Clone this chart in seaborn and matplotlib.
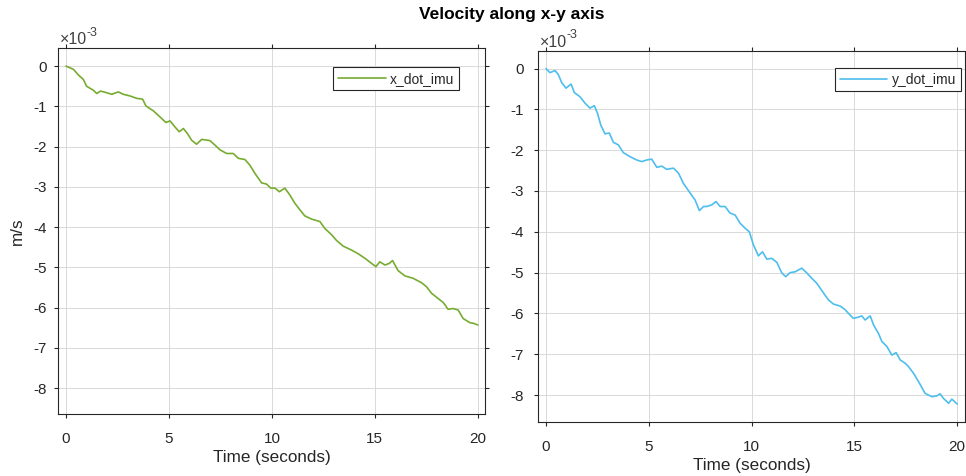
import numpy as np
import pandas as pd
import matplotlib
matplotlib.use("Agg")
import matplotlib.pyplot as plt
from matplotlib.ticker import FuncFormatter
import seaborn as sns

# Integrated IMU velocity along x (m/s, values in units of 1e-3)
t_x = [0, 0.36, 0.6, 0.84, 1.0, 1.33, 1.49, 1.68, 1.97, 2.22, 2.54, 2.78, 3.1, 3.43, 3.72,
       3.88, 4.24, 4.56, 4.85, 5.05, 5.29, 5.5, 5.7, 5.89, 6.1, 6.34, 6.59, 6.99, 7.23, 7.48,
       7.8, 8.12, 8.37, 8.69, 8.93, 9.17, 9.5, 9.74, 9.94, 10.15, 10.36, 10.63, 10.87, 11.12,
       11.36, 11.6, 11.93, 12.33, 12.57, 12.9, 13.14, 13.46, 13.87, 14.19, 14.51, 14.84, 15.05,
       15.24, 15.49, 15.7, 15.86, 16.13, 16.46, 16.86, 17.27, 17.51, 17.75, 18.07, 18.32, 18.56,
       18.8, 19.05, 19.29, 19.61, 19.81, 20.0]
x_dot_imu = [0, -0.08, -0.22, -0.33, -0.50, -0.60, -0.68, -0.62, -0.66, -0.70, -0.64, -0.70,
             -0.74, -0.80, -0.82, -0.99, -1.11, -1.26, -1.40, -1.36, -1.51, -1.63, -1.55, -1.67,
             -1.84, -1.94, -1.82, -1.85, -1.96, -2.08, -2.17, -2.17, -2.29, -2.32, -2.46, -2.66,
             -2.90, -2.93, -3.03, -3.03, -3.12, -3.03, -3.20, -3.41, -3.57, -3.72, -3.80, -3.86,
             -4.03, -4.19, -4.33, -4.47, -4.57, -4.66, -4.77, -4.90, -4.98, -4.86, -4.94, -4.90,
             -4.83, -5.08, -5.21, -5.27, -5.38, -5.48, -5.64, -5.77, -5.87, -6.04, -6.02, -6.06,
             -6.27, -6.37, -6.39, -6.43]

# Integrated IMU velocity along y (m/s, values in units of 1e-3)
t_y = [0, 0.19, 0.44, 0.60, 0.76, 0.97, 1.22, 1.38, 1.65, 1.90, 2.14, 2.35, 2.50, 2.66, 2.87,
       3.08, 3.28, 3.52, 3.76, 4.09, 4.41, 4.66, 4.90, 5.14, 5.39, 5.63, 5.87, 6.20, 6.44, 6.68,
       7.01, 7.25, 7.46, 7.66, 7.82, 8.06, 8.27, 8.47, 8.71, 8.95, 9.20, 9.44, 9.68, 9.89, 10.09,
       10.33, 10.53, 10.74, 10.98, 11.23, 11.47, 11.66, 11.87, 12.12, 12.44, 12.69, 12.93, 13.17,
       13.50, 13.74, 13.98, 14.31, 14.55, 14.79, 14.95, 15.20, 15.36, 15.52, 15.77, 15.93, 16.17,
       16.34, 16.58, 16.82, 17.03, 17.23, 17.47, 17.63, 17.88, 18.12, 18.44, 18.77, 19.01, 19.17,
       19.33, 19.58, 19.74, 20.0]
y_dot_imu = [0, -0.10, -0.05, -0.15, -0.34, -0.48, -0.38, -0.59, -0.69, -0.85, -0.97, -0.91,
             -1.09, -1.38, -1.60, -1.58, -1.81, -1.87, -2.06, -2.16, -2.24, -2.28, -2.24, -2.22,
             -2.42, -2.39, -2.47, -2.44, -2.56, -2.81, -3.05, -3.22, -3.48, -3.38, -3.38, -3.34,
             -3.26, -3.38, -3.38, -3.54, -3.59, -3.79, -3.91, -4.00, -4.32, -4.59, -4.49, -4.67,
             -4.65, -4.75, -5.01, -5.10, -5.00, -4.98, -4.89, -5.01, -5.14, -5.26, -5.50, -5.67,
             -5.77, -5.82, -5.91, -6.04, -6.12, -6.09, -6.06, -6.16, -6.06, -6.28, -6.49, -6.69,
             -6.81, -7.02, -6.96, -7.14, -7.22, -7.30, -7.47, -7.67, -7.96, -8.04, -8.02, -7.97,
             -8.08, -8.20, -8.10, -8.22]

SCALE = 1e-3
x_ticks = [0, 5, 10, 15, 20]
y_ticks = [-8, -7, -6, -5, -4, -3, -2, -1, 0]

sns.set_theme(style="whitegrid")
plt.rcParams.update({
    "font.family": ["Liberation Sans", "DejaVu Sans"],
    "axes.unicode_minus": False,
    "axes.edgecolor": "#262626",
    "axes.linewidth": 0.8,
    "grid.color": "#d9d9d9",
    "grid.linewidth": 0.7,
    "xtick.color": "#262626",
    "ytick.color": "#262626",
    "text.color": "#262626",
})

W, H = 966, 476
fig = plt.figure(figsize=(W / 100, H / 100), dpi=100)


def px_axes(l, t, r, b):
    return fig.add_axes([l / W, 1 - b / H, (r - l) / W, (b - t) / H])


ax_l = px_axes(58, 48, 485, 414)
ax_r = px_axes(538, 51, 965, 422)

panels = [
    (ax_l, t_x, x_dot_imu, "x_dot_imu", "#77AC30", (-0.39, 20.35), (-8.64, 0.45), 5.0),
    (ax_r, t_y, y_dot_imu, "y_dot_imu", "#4DBEEE", (-0.39, 20.38), (-8.66, 0.43), 7.5),
]

for ax, t, v, name, color, xlim, ylim, ypad in panels:
    df = pd.DataFrame({"t": t, "v": np.asarray(v) * SCALE})
    sns.lineplot(data=df, x="t", y="v", ax=ax, color=color, linewidth=1.2,
                 label=name, estimator=None, sort=False)
    ax.set_xlim(*xlim)
    ax.set_ylim(ylim[0] * SCALE, ylim[1] * SCALE)
    ax.set_xticks(x_ticks)
    ax.set_yticks([y * SCALE for y in y_ticks])
    ax.yaxis.set_major_formatter(FuncFormatter(lambda val, pos: f"{round(val / SCALE):d}"))
    ax.grid(True, color="#d9d9d9", linewidth=0.7)
    for s in ax.spines.values():
        s.set_visible(True)
        s.set_color("#262626")
        s.set_linewidth(0.8)
    ax.tick_params(axis="both", which="major", direction="out", length=3, width=0.8,
                   labelsize=11, top=True, right=True, bottom=True, left=True,
                   labeltop=False, labelright=False, colors="#262626")
    ax.tick_params(axis="x", pad=10.0)
    ax.tick_params(axis="y", pad=ypad)
    ax.set_xlabel("Time (seconds)", fontsize=12.3, color="#262626", labelpad=3)
    ax.set_ylabel("")
    leg = ax.legend(loc="upper right", frameon=True, fancybox=False, framealpha=1,
                    fontsize=10, handlelength=3.4, handletextpad=0.3, borderpad=0.35,
                    borderaxespad=0)
    leg.get_frame().set_edgecolor("#262626")
    leg.get_frame().set_linewidth(0.8)
    # exponent label for the y axis
    ax.annotate("\u00d710", xy=(0, 1), xycoords="axes fraction", xytext=(1.3, 2.9),
                textcoords="offset points", fontsize=11.5, color="#404040",
                ha="left", va="baseline")
    ax.annotate("-3", xy=(0, 1), xycoords="axes fraction", xytext=(20.3, 9.0),
                textcoords="offset points", fontsize=9, color="#404040",
                ha="left", va="baseline")

ax_l.get_legend().set_bbox_to_anchor((0.939, 0.949), transform=ax_l.transAxes)
ax_r.get_legend().set_bbox_to_anchor((0.990, 0.955), transform=ax_r.transAxes)

ax_l.set_ylabel("m/s", fontsize=12.3, color="#262626")
ax_l.yaxis.set_label_coords(-0.077, 0.5)

fig.text(512 / W, 1 - 15 / H, "Velocity along x-y axis", ha="center", va="center",
         fontsize=12.5, fontweight="bold", color="black")

fig.savefig("out.png", dpi=100, facecolor="white")
